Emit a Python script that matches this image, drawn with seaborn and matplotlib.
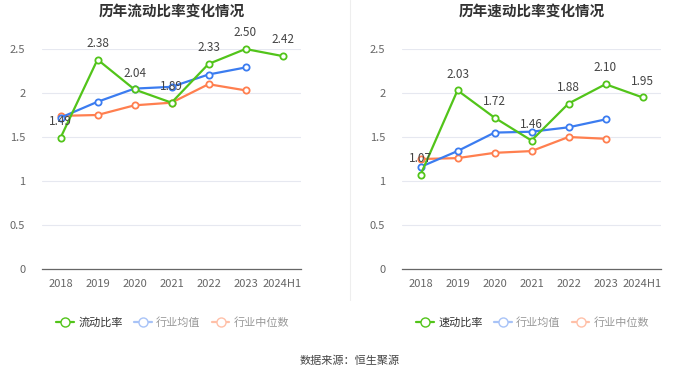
import numpy as np
import pandas as pd
import matplotlib
matplotlib.use("Agg")
import matplotlib.pyplot as plt
from matplotlib.lines import Line2D
import seaborn as sns

sns.set_style("white")
plt.rcParams['font.family'] = ['Noto Sans CJK SC', 'DejaVu Sans']

# Data
years = ['2018', '2019', '2020', '2021', '2022', '2023', '2024H1']
current_ratio = [1.49, 2.38, 2.04, 1.89, 2.33, 2.50, 2.42]
current_avg = [1.72, 1.90, 2.05, 2.07, 2.21, 2.29]
current_median = [1.74, 1.75, 1.86, 1.89, 2.10, 2.03]
quick_ratio = [1.07, 2.03, 1.72, 1.46, 1.88, 2.10, 1.95]
quick_avg = [1.16, 1.34, 1.55, 1.56, 1.61, 1.70]
quick_median = [1.25, 1.26, 1.32, 1.34, 1.50, 1.48]

green = '#52C41A'
blue = '#3B7CF0'
orange = '#FF7F4F'

fig = plt.figure(figsize=(7, 3.78), dpi=100)
ax1 = fig.add_axes([42 / 700, 1 - 269 / 378, 259 / 700, 220 / 378])
ax2 = fig.add_axes([402 / 700, 1 - 269 / 378, 259 / 700, 220 / 378])


def draw(ax, title, main, avg, med, main_name):
    n = len(avg)
    df_main = pd.DataFrame({'x': years, 'y': main})
    df_avg = pd.DataFrame({'x': years[:n], 'y': avg})
    df_med = pd.DataFrame({'x': years[:n], 'y': med})
    style = dict(marker='o', markersize=4.5, markerfacecolor='white',
                 markeredgewidth=1.3, linewidth=1.6, sort=False, clip_on=False)
    sns.lineplot(data=df_med, x='x', y='y', ax=ax, color=orange,
                 markeredgecolor=orange, **style)
    sns.lineplot(data=df_avg, x='x', y='y', ax=ax, color=blue,
                 markeredgecolor=blue, **style)
    sns.lineplot(data=df_main, x='x', y='y', ax=ax, color=green,
                 markeredgecolor=green, **style)
    for i, v in enumerate(main):
        ax.annotate(f'{v:.2f}', (i, v), xytext=(0, 7), textcoords='offset points',
                    ha='center', va='bottom', fontsize=8.5, color='#444444')
    ax.set_xlim(-0.5, 6.5)
    ax.set_ylim(0, 2.5)
    ax.set_yticks([0, 0.5, 1, 1.5, 2, 2.5])
    ax.set_yticklabels(['0', '0.5', '1', '1.5', '2', '2.5'])
    ax.yaxis.grid(True, color='#E6E8F0', linewidth=0.8)
    ax.set_axisbelow(True)
    for s in ['top', 'right', 'left']:
        ax.spines[s].set_visible(False)
    ax.spines['bottom'].set_color('#666666')
    ax.spines['bottom'].set_linewidth(0.9)
    ax.tick_params(axis='x', length=4, color='#666666', labelsize=8,
                   labelcolor='#666666', pad=3)
    ax.tick_params(axis='y', length=0, labelsize=8, labelcolor='#666666', pad=12)
    ax.set_xlabel('')
    ax.set_ylabel('')
    ax.set_title(title, fontsize=10.5, fontweight='bold', color='#333333',
                 y=1.0, pad=24)

    handles = [
        Line2D([], [], color=green, marker='o', markerfacecolor='white',
               markeredgecolor=green, markersize=6.5, linewidth=1.6),
        Line2D([], [], color='#A8C3F7', marker='o', markerfacecolor='white',
               markeredgecolor='#A8C3F7', markersize=6.5, linewidth=1.6),
        Line2D([], [], color='#FFC0A8', marker='o', markerfacecolor='white',
               markeredgecolor='#FFC0A8', markersize=6.5, linewidth=1.6),
    ]
    leg = ax.legend(handles, [main_name, '行业均值', '行业中位数'],
                    loc='center', bbox_to_anchor=(0.505, -0.245), ncol=3,
                    frameon=False, fontsize=8, handlelength=1.6,
                    handletextpad=0.4, columnspacing=1.0)
    cols = ['#333333', '#999999', '#999999']
    for t, c in zip(leg.get_texts(), cols):
        t.set_color(c)


draw(ax1, '历年流动比率变化情况', current_ratio, current_avg, current_median, '流动比率')
draw(ax2, '历年速动比率变化情况', quick_ratio, quick_avg, quick_median, '速动比率')

# divider
fig.add_artist(Line2D([350 / 700, 350 / 700], [1 - 300 / 378, 1.0],
                      color='#EEEEEE', linewidth=0.8))

fig.text(0.5, 1 - 361 / 378, '数据来源：恒生聚源', ha='center', va='center',
         fontsize=8, color='#444444')

plt.savefig('out.png', dpi=100)
